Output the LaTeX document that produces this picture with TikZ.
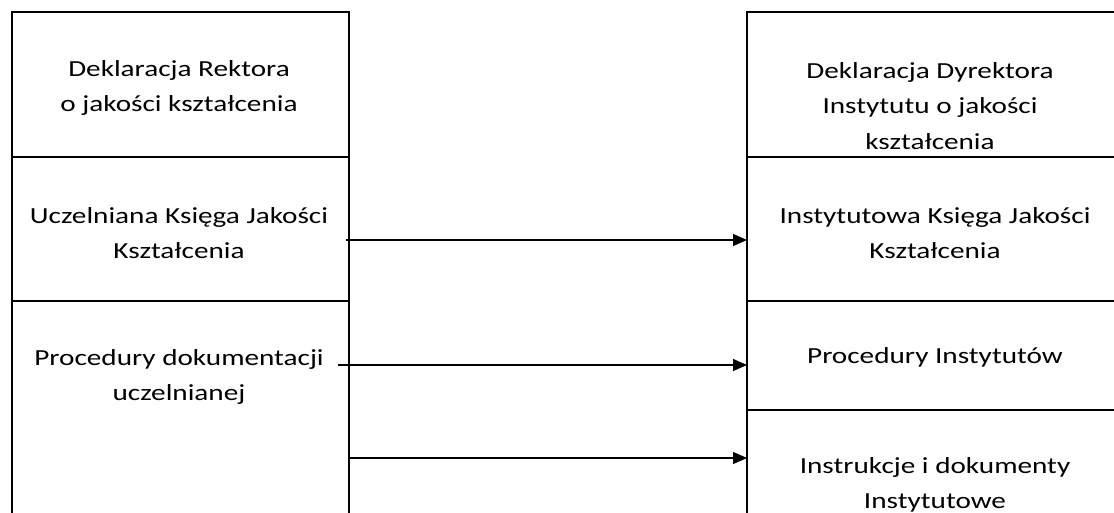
\documentclass[tikz,border=0pt]{standalone}
\usepackage{fontspec}
\setmainfont{Carlito}[FakeStretch=1.27]
\usetikzlibrary{arrows.meta}
\tikzset{
  cell/.style={draw, line width=1.6pt, rectangle, inner sep=0pt, outer sep=0pt},
  txt/.style={align=center, inner sep=0pt, font=\fontsize{23}{35.5}\selectfont},
  link/.style={line width=1.2pt, -{Triangle[length=14pt,width=12pt]}}
}
\begin{document}
\begin{tikzpicture}[x=1pt,y=-1pt]
\useasboundingbox (0,0) rectangle (1114,513);
% left column
\node[cell, minimum width=337pt, minimum height=145pt] (L1) at (180.5,84.5) {};
\node[cell, minimum width=337pt, minimum height=144pt] (L2) at (180.5,229) {};
\node[cell, minimum width=337pt, minimum height=239pt] (L3) at (180.5,420.5) {};
% right column
\node[cell, minimum width=378pt, minimum height=145pt] (R1) at (936,84.5) {};
\node[cell, minimum width=378pt, minimum height=144pt] (R2) at (936,229) {};
\node[cell, minimum width=378pt, minimum height=109pt] (R3) at (936,355.5) {};
\node[cell, minimum width=378pt, minimum height=130pt] (R4) at (936,475) {};
% texts
\node[txt] (tL1) at (179,88) {Deklaracja Rektora\\o jakości kształcenia};
\node[txt] (tL2) at (179,233) {Uczelniana Księga Jakości\\Kształcenia};
\node[txt] (tL3) at (179,377) {Procedury dokumentacji\\uczelnianej};
\node[txt] (tR1) at (930,106) {Deklaracja Dyrektora\\Instytutu o jakości\\kształcenia};
\node[txt] (tR2) at (935,233) {Instytutowa Księga Jakości\\Kształcenia};
\node[txt] (tR3) at (935,357) {Procedury Instytutów};
\node[txt] (tR4) at (935,485) {Instrukcje i dokumenty\\Instytutowe};
% arrows
\draw[link] ([xshift=-3pt,yshift=-11pt]L2.east) -- ([yshift=-11pt]R2.west);
\draw[link] ([xshift=-11pt]L3.east |- R3.west) ++(0,9.5) coordinate (a2)
  -- ([yshift=-9.5pt]R3.west);
\draw[link] ([yshift=17pt]L3.east |- R4.west) -- ([yshift=17pt]R4.west);
\end{tikzpicture}
\end{document}
